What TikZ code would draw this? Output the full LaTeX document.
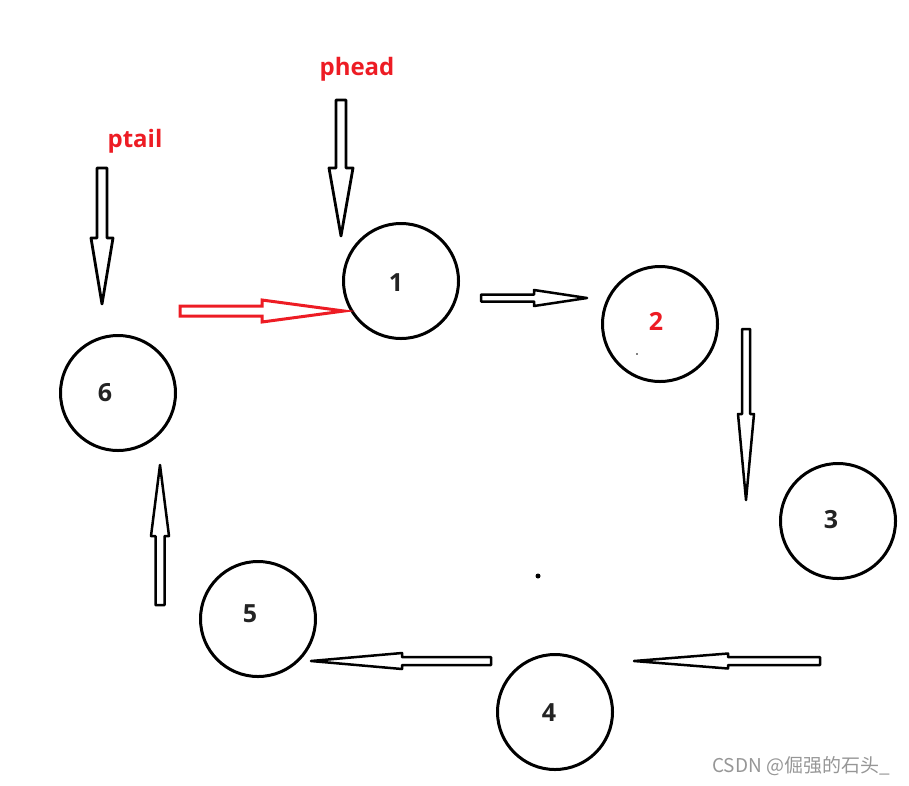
\documentclass[tikz,border=0pt]{standalone}
\usepackage{fontspec}
\setmainfont{Open Sans}
\newfontfamily\cjkfont{Noto Sans CJK SC}
\definecolor{pred}{RGB}{237,28,36}
\definecolor{digit}{RGB}{35,35,35}
\definecolor{wmark}{RGB}{150,150,150}
\begin{document}
\begin{tikzpicture}[x=1pt,y=-1pt,
  ring/.style={circle,draw=black,line width=3pt,minimum size=115pt,inner sep=0pt},
  dig/.style={font=\fontsize{25}{25}\selectfont\bfseries,text=digit,inner sep=0pt},
  blk/.style={draw=black,line width=2.8pt,line join=round,fill=white},
  redblk/.style={draw=pred,line width=3pt,line join=miter,fill=white},
  ptr/.style={font=\fontsize{24}{24}\selectfont\bfseries,text=pred}]
\useasboundingbox (0,0) rectangle (909,785);
% nodes
\node[ring] (n1) at (401,281) {};
\node[ring] (n2) at (660,324) {};
\node[ring] (n3) at (838,521) {};
\node[ring] (n4) at (555,712) {};
\node[ring] (n5) at (258,619) {};
\node[ring] (n6) at (118,393) {};
\node[dig] (d1) at (396,283) {1};
\node[dig,text=pred] (d2) at (656,321) {2};
\node[dig] (d3) at (831,520) {3};
\node[dig] (d4) at (549,713) {4};
\node[dig] (d5) at (250,614) {5};
\node[dig] (d6) at (105,393) {6};
\node[ptr] (ph) at (357,69) {phead};
\node[ptr] (pt) at (135,141) {ptail};
% phead pointer (down)
\coordinate (phA) at (341,100);
\draw[blk] (phA) ++(-5,0) -- ++(10,0) -- ++(0,68) -- ++(7,0) -- ++(-12,68) -- ++(-12,-68) -- ++(7,0) -- cycle;
% ptail pointer (down)
\coordinate (ptA) at (102,168);
\draw[blk] (ptA) ++(-5,0) -- ++(10,0) -- ++(0,70) -- ++(6,0) -- ++(-11,66) -- ++(-11,-66) -- ++(6,0) -- cycle;
% 6 -> 1 (red, right)
\coordinate (r61) at (180,311);
\draw[redblk] (r61) ++(0,-5) -- ++(82,0) -- ++(0,-6) -- ++(82,11) -- ++(-82,11) -- ++(0,-6) -- ++(-82,0) -- cycle;
% 1 -> 2 (right)
\coordinate (a12) at (481,298);
\draw[blk,line width=2.5pt] (a12) ++(0,-3.5) -- ++(53,0) -- ++(0,-4.5) -- ++(53,8) -- ++(-53,8) -- ++(0,-4.5) -- ++(-53,0) -- cycle;
% 2 -> 3 (down)
\coordinate (a23) at (746,329);
\draw[blk,line width=2.5pt] (a23) ++(-4,0) -- ++(8,0) -- ++(0,85) -- ++(4,0) -- ++(-8,86) -- ++(-8,-86) -- ++(4,0) -- cycle;
% 3 -> 4 (left)
\coordinate (a34) at (820,661);
\draw[blk,line width=2.5pt] (a34) ++(0,-4) -- ++(-92,0) -- ++(0,-3.5) -- ++(-94,7.5) -- ++(94,7.5) -- ++(0,-3.5) -- ++(92,0) -- cycle;
% 4 -> 5 (left)
\coordinate (a45) at (491,661);
\draw[blk,line width=2.5pt] (a45) ++(0,-4) -- ++(-89,0) -- ++(0,-4) -- ++(-91,8) -- ++(91,8) -- ++(0,-4) -- ++(89,0) -- cycle;
% 5 -> 6 (up)
\coordinate (a56) at (160,605);
\draw[blk,line width=2.5pt] (a56) ++(-4.5,0) -- ++(9,0) -- ++(0,-69) -- ++(4.5,0) -- ++(-9,-71) -- ++(-9,71) -- ++(4.5,0) -- cycle;
% stray dots
\fill[black] (538,576) circle (2.5pt);
\fill[black] (637,354) circle (0.8pt);
% watermark
\node[anchor=west,text=wmark,font=\cjkfont\fontsize{19}{19}\selectfont,inner sep=0pt] (wm) at (712,766) {CSDN @倔强的石头\_};
\end{tikzpicture}
\end{document}
